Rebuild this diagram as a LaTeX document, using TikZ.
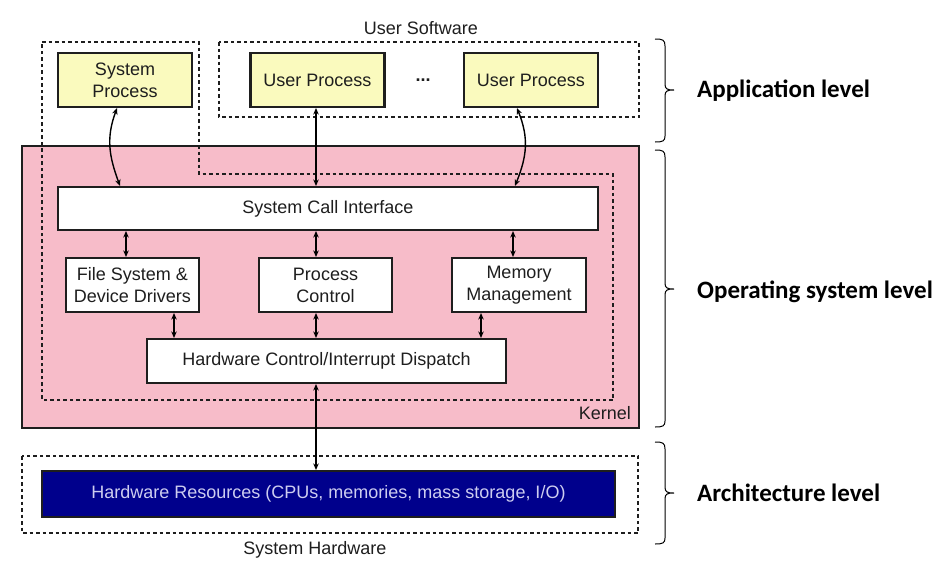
\documentclass[tikz,border=0pt]{standalone}
\usepackage{fontspec}
\setmainfont{Liberation Sans}
\newfontfamily\lvlfont{Carlito}
\usetikzlibrary{arrows.meta}
\definecolor{kpink}{RGB}{247,188,201}
\definecolor{pyellow}{RGB}{250,250,190}
\definecolor{hwnavy}{RGB}{0,0,140}
\definecolor{hwtext}{RGB}{205,205,240}
\definecolor{edge}{RGB}{30,30,30}
\begin{document}
\begin{tikzpicture}[x=1pt,y=-1pt,
  txt/.style={font=\fontsize{18}{22}\selectfont, text=edge},
  box/.style={txt, draw=edge, line width=2.1pt, fill=white, align=center, inner sep=0pt},
  proc/.style={box, fill=pyellow, minimum width=134pt, minimum height=54pt},
  sub/.style={box, minimum width=133pt, minimum height=54pt},
  dotframe/.style={draw=edge, line width=2.1pt, dash pattern=on 3.5pt off 3pt},
  arr/.style={{Stealth[length=6.5pt,width=5.5pt]}-{Stealth[length=6.5pt,width=5.5pt]}, line width=1.4pt, draw=black},
  brc/.style={draw=black, line width=1pt},
  lvl/.style={font=\lvlfont\bfseries\fontsize{25}{30}\selectfont, anchor=west, inner sep=0pt}
]
\useasboundingbox[fill=white] (0,0) rectangle (940,563);

% kernel
\node[draw=edge, line width=2.1pt, fill=kpink, minimum width=617pt, minimum height=282pt, inner sep=0pt] (kernel) at (330.5,287) {};
\node[txt, anchor=east, inner sep=0pt] (kernellbl) at (631,413) {Kernel};

% dotted frames
\draw[dotframe] (42,42) -- (199,42) -- (199,174) -- (613,174) -- (613,400) -- (42,400) -- cycle;
\draw[dotframe] (219,42) rectangle (639,117);
\draw[dotframe] (22,456) rectangle (638,533);

% texts of frames
\node[txt] (usersw) at (421,28) {User Software};
\node[txt] (syshw) at (315,550) {System Hardware};

% processes
\node[proc] (sp) at (125,80) {System\\Process};
\node[proc] (up1) at (317.5,80) {User Process};
\node[proc] (up2) at (531,80) {User Process};
\node[txt, font=\bfseries\fontsize{18}{22}\selectfont] (dots) at (423,80) {...};

% kernel parts
\node[box, minimum width=540pt, minimum height=43pt] (sci) at (328,208.5) {System Call Interface};
\node[sub] (fs) at (132.5,285) {File System \&\\Device Drivers};
\node[sub] (pc) at (325.5,285) {Process\\Control};
\node[sub, minimum width=134pt] (mm) at (519,285) {Memory\\Management};
\node[box, minimum width=359pt, minimum height=44pt] (hwc) at (326.5,361) {Hardware Control/Interrupt Dispatch};

% hardware
\node[box, fill=hwnavy, text=hwtext, minimum width=573pt, minimum height=46pt] (hwr) at (328.5,494) {Hardware Resources (CPUs, memories, mass storage, I/O)};

% connectors
\draw[arr] ([xshift=-8pt]sp.south) .. controls +(-11,30) and +(-11,-30) .. ([xshift=-5pt]sp.south |- sci.north);
\draw[arr] ([xshift=-1.5pt]up1.south) -- ([xshift=-1.5pt]up1.south |- sci.north);
\draw[arr] ([xshift=-14pt]up2.south) .. controls +(12,30) and +(12,-30) .. ([xshift=-16pt]up2.south |- sci.north);

\draw[arr] ([xshift=-6.5pt]fs.north |- sci.south) -- ([xshift=-6.5pt]fs.north);
\draw[arr] ([xshift=-9.5pt]pc.north |- sci.south) -- ([xshift=-9.5pt]pc.north);
\draw[arr] ([xshift=-6pt]mm.north |- sci.south) -- ([xshift=-6pt]mm.north);

\draw[arr] ([xshift=41.5pt]fs.south) -- ([xshift=41.5pt]fs.south |- hwc.north);
\draw[arr] ([xshift=-9.5pt]pc.south) -- ([xshift=-9.5pt]pc.south |- hwc.north);
\draw[arr] ([xshift=-38pt]mm.south) -- ([xshift=-38pt]mm.south |- hwc.north);

\draw[arr] ([xshift=-10.5pt]hwc.south) -- ([xshift=-10.5pt]hwc.south |- hwr.north);

% braces
\draw[brc] (655,39) .. controls (663,39) and (665,40) .. (665,46) -- (665,84) .. controls (665,89) and (667,90) .. (674,90)
  (674,90) .. controls (667,90) and (665,91) .. (665,96) -- (665,136) .. controls (665,141) and (663,142) .. (655,142);
\draw[brc] (655,150) .. controls (663,150) and (665,151) .. (665,157) -- (665,283) .. controls (665,288) and (667,289) .. (674,289)
  (674,289) .. controls (667,289) and (665,290) .. (665,295) -- (665,421) .. controls (665,426) and (663,427) .. (655,427);
\draw[brc] (655,442) .. controls (663,442) and (665,443) .. (665,449) -- (665,487) .. controls (665,492) and (667,493) .. (674,493)
  (674,493) .. controls (667,493) and (665,494) .. (665,499) -- (665,538) .. controls (665,543) and (663,544) .. (655,544);

% level labels
\node[lvl] (applvl) at (697,91) {Application level};
\node[lvl] (oslvl) at (697,292) {Operating system level};
\node[lvl] (archlvl) at (697,493) {Architecture level};
\end{tikzpicture}
\end{document}
